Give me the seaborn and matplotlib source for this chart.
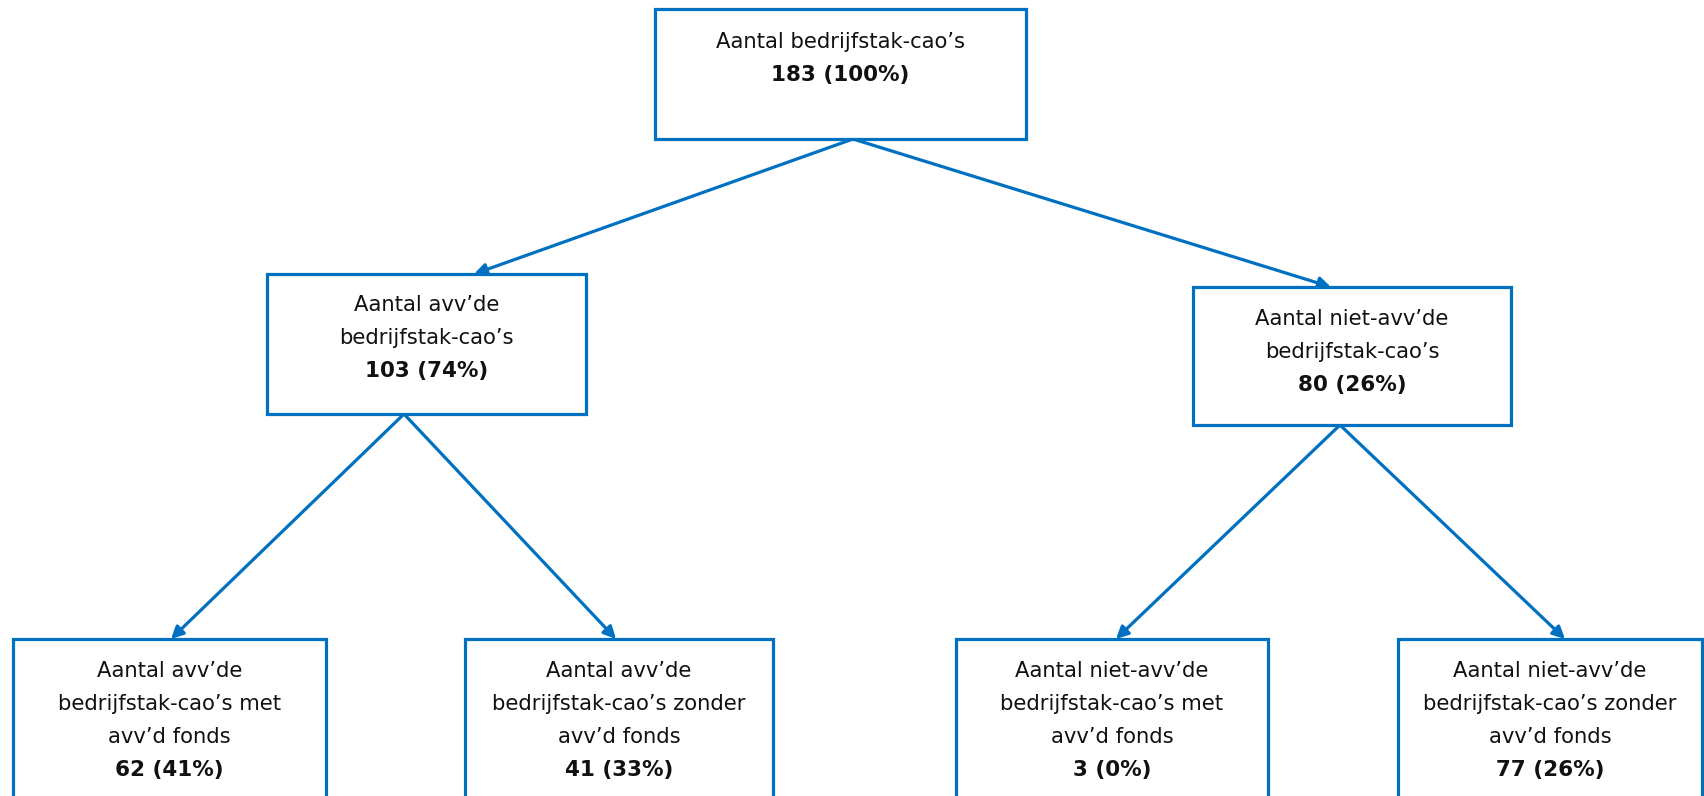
import matplotlib
matplotlib.use("Agg")
import matplotlib.pyplot as plt
from matplotlib.patches import Rectangle
import seaborn as sns

# ---- data ----
node_ids = ["root", "avv", "niet", "avv_met", "avv_zonder", "niet_met", "niet_zonder"]
node_labels = [
    ["Aantal bedrijfstak-cao\u2019s"],
    ["Aantal avv\u2019de", "bedrijfstak-cao\u2019s"],
    ["Aantal niet-avv\u2019de", "bedrijfstak-cao\u2019s"],
    ["Aantal avv\u2019de", "bedrijfstak-cao\u2019s met", "avv\u2019d fonds"],
    ["Aantal avv\u2019de", "bedrijfstak-cao\u2019s zonder", "avv\u2019d fonds"],
    ["Aantal niet-avv\u2019de", "bedrijfstak-cao\u2019s met", "avv\u2019d fonds"],
    ["Aantal niet-avv\u2019de", "bedrijfstak-cao\u2019s zonder", "avv\u2019d fonds"],
]
counts = [183, 103, 80, 62, 41, 3, 77]
percents = [100, 74, 26, 41, 33, 0, 26]
parents = [None, "root", "root", "avv", "avv", "niet", "niet"]

# ---- layout (pixel geometry of the boxes: x0, y0, x1, y1) ----
box_geom = {
    "root": (655, 9, 1026, 139),
    "avv": (267, 274, 586, 414),
    "niet": (1193, 287, 1511, 425),
    "avv_met": (13, 639, 326, 820),
    "avv_zonder": (465, 639, 773, 820),
    "niet_met": (956, 639, 1268, 820),
    "niet_zonder": (1398, 639, 1702, 820),
}
arrow_sources = {"root": 853, "avv": 404, "niet": 1340}
arrow_targets = {
    "avv": 474, "niet": 1331,
    "avv_met": 171, "avv_zonder": 616,
    "niet_met": 1116, "niet_zonder": 1565,
}
text_first_line = {
    "root": 42, "avv": 305, "niet": 319,
    "avv_met": 671, "avv_zonder": 671, "niet_met": 671, "niet_zonder": 671,
}
LINE = 33
BLUE = "#0070C0"

sns.set_theme(style="white")
plt.rcParams["font.family"] = ["DejaVu Sans"]

fig = plt.figure(figsize=(17.04, 7.96), dpi=100)
ax = fig.add_axes([0, 0, 1, 1])
ax.set_xlim(0, 1704)
ax.set_ylim(796, 0)
ax.axis("off")

# arrows
for nid, par in zip(node_ids, parents):
    if par is None:
        continue
    py1 = box_geom[par][3]
    sx = arrow_sources[par]
    tx = arrow_targets[nid]
    ty = box_geom[nid][1]
    ax.annotate("", xy=(tx, ty), xytext=(sx, py1),
                arrowprops=dict(arrowstyle="-|>,head_length=0.6,head_width=0.3",
                                color=BLUE, lw=2.3, shrinkA=0, shrinkB=0))

# boxes and text
for i, nid in enumerate(node_ids):
    x0, y0, x1, y1 = box_geom[nid]
    ax.add_patch(Rectangle((x0, y0), x1 - x0, y1 - y0, fill=True,
                           facecolor="white", edgecolor=BLUE, lw=2.3, zorder=3))
    cx = (x0 + x1) / 2
    y = text_first_line[nid]
    for line in node_labels[i]:
        ax.text(cx, y, line, ha="center", va="center", fontsize=15.2,
                color="#111111", zorder=4)
        y += LINE
    ax.text(cx, y, f"{counts[i]} ({percents[i]}%)", ha="center", va="center",
            fontsize=15.5, fontweight="bold", color="#111111", zorder=4)

fig.savefig("out.png", dpi=100)
